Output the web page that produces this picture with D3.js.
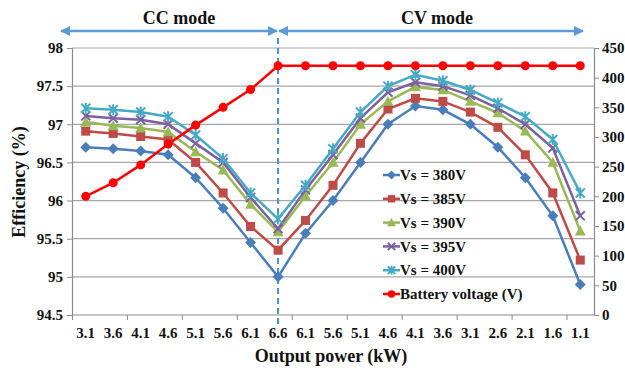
<!DOCTYPE html>
<html>
<head>
<meta charset="utf-8">
<script src="https://cdn.jsdelivr.net/npm/d3@7"></script>
<style>
  body { margin: 0; background: #fff; }
</style>
</head>
<body>
<svg id="chart" width="625" height="368"></svg>
<script>
// output power (kW), CC region then CV region
const powerLabels = ["3.1", "3.6", "4.1", "4.6", "5.1", "5.6", "6.1", "6.6", "6.1", "5.6", "5.1",
  "4.6", "4.1", "3.6", "3.1", "2.6", "2.1", "1.6", "1.1"];

// efficiency (%)
const vs380 = [96.7, 96.68, 96.65, 96.6, 96.3, 95.9, 95.45, 95.0, 95.57, 96.0, 96.5, 97.0, 97.24, 97.19, 97.0, 96.7, 96.3, 95.8, 94.9];
const vs385 = [96.91, 96.88, 96.84, 96.8, 96.5, 96.1, 95.66, 95.35, 95.74, 96.2, 96.75, 97.2, 97.34, 97.3, 97.16, 96.96, 96.6, 96.1, 95.22];
const vs390 = [97.03, 96.98, 96.95, 96.9, 96.64, 96.4, 95.95, 95.59, 96.06, 96.5, 97.0, 97.3, 97.49, 97.45, 97.3, 97.15, 96.91, 96.5, 95.6];
const vs395 = [97.11, 97.08, 97.06, 97.0, 96.75, 96.5, 96.04, 95.63, 96.14, 96.6, 97.08, 97.42, 97.55, 97.5, 97.38, 97.21, 97.0, 96.69, 95.8];
const vs400 = [97.21, 97.19, 97.16, 97.1, 96.86, 96.55, 96.1, 95.76, 96.2, 96.68, 97.16, 97.5, 97.65, 97.57, 97.45, 97.28, 97.1, 96.8, 96.1];

// battery voltage (V)
const battery = [200, 223, 253, 288, 320, 350, 380, 420, 420, 420, 420, 420, 420, 420, 420, 420, 420, 420, 420];

const leftTicks = [94.5, 95, 95.5, 96, 96.5, 97, 97.5, 98];
const rightTicks = [0, 50, 100, 150, 200, 250, 300, 350, 400, 450];

const series = [
  { name: "Vs = 380V", values: vs380, color: "#4a7ebb", marker: "diamond" },
  { name: "Vs = 385V", values: vs385, color: "#be4b48", marker: "square" },
  { name: "Vs = 390V", values: vs390, color: "#98b954", marker: "triangle" },
  { name: "Vs = 395V", values: vs395, color: "#7d60a0", marker: "x" },
  { name: "Vs = 400V", values: vs400, color: "#46aac5", marker: "star" }
];

const FONT = "'Liberation Serif', 'Times New Roman', serif";

const svg = d3.select("#chart");
const plotLeft = 72, plotRight = 594, plotTop = 48, plotBottom = 315;

const x = d3.scaleBand().domain(d3.range(powerLabels.length)).range([plotLeft, plotRight]);
const xb = d3.scaleLinear().domain([0, powerLabels.length]).range([plotLeft, plotRight]);
const yL = d3.scaleLinear().domain([94.5, 98]).range([plotBottom, plotTop]);
const yR = d3.scaleLinear().domain([0, 450]).range([plotBottom, plotTop]);
const cx = i => x(i) + x.bandwidth() / 2;

// gridlines
svg.append("g")
  .selectAll("line")
  .data(leftTicks.slice(1))
  .enter().append("line")
  .attr("x1", plotLeft).attr("x2", plotRight)
  .attr("y1", d => yL(d)).attr("y2", d => yL(d))
  .attr("stroke", "#a6a6a6").attr("stroke-width", 1.2);

// axes
const gl = svg.append("g").attr("transform", "translate(" + plotLeft + ",0)")
  .call(d3.axisLeft(yL).tickValues(leftTicks).tickSize(5).tickPadding(4).tickFormat(d => String(d)));
const gr = svg.append("g").attr("transform", "translate(" + plotRight + ",0)")
  .call(d3.axisRight(yR).tickValues(rightTicks).tickSize(5).tickPadding(3));
const gx = svg.append("g").attr("transform", "translate(0," + plotBottom + ")")
  .call(d3.axisBottom(x).tickSize(0).tickPadding(12).tickFormat(i => powerLabels[i]));
const gxt = svg.append("g").attr("transform", "translate(0," + plotBottom + ")")
  .call(d3.axisBottom(xb).tickValues(d3.range(0, 19, 2)).tickSize(5).tickFormat(""));

[gl, gr, gx, gxt].forEach(g => {
  g.attr("font-family", null).attr("font-size", null);
  g.select(".domain").attr("stroke", "#8c8c8c").attr("stroke-width", 1.2);
  g.selectAll(".tick line").attr("stroke", "#8c8c8c");
  g.selectAll("text").style("font-size", "15px");
});
gx.select(".domain").attr("d", "M" + plotLeft + ",0H" + plotRight);
gxt.select(".domain").remove();

// CC/CV divider
const divX = xb(7.5);
svg.append("line")
  .attr("x1", divX).attr("x2", divX).attr("y1", 38).attr("y2", 326)
  .attr("stroke", "#4a8fd4").attr("stroke-width", 2).attr("stroke-dasharray", "6,4");

// mode arrows
const defs = svg.append("defs");
["start", "end"].forEach(k => {
  defs.append("marker").attr("id", "arr-" + k)
    .attr("viewBox", "0 0 10 10").attr("refX", 9).attr("refY", 5)
    .attr("markerWidth", 4).attr("markerHeight", 4).attr("orient", "auto-start-reverse")
    .append("path").attr("d", "M0,0L10,5L0,10Z").attr("fill", "#5b9bd5");
});
[[61, divX - 1], [divX + 1, 583]].forEach(([a, b]) => {
  svg.append("line").attr("x1", a).attr("x2", b).attr("y1", 31).attr("y2", 31)
    .attr("stroke", "#5b9bd5").attr("stroke-width", 2.5)
    .attr("marker-start", "url(#arr-start)").attr("marker-end", "url(#arr-end)");
});
svg.append("text").attr("x", 179).attr("y", 24).attr("text-anchor", "middle")
  .style("font-size", "18px").text("CC mode");
svg.append("text").attr("x", 437).attr("y", 24).attr("text-anchor", "middle")
  .style("font-size", "18px").text("CV mode");

// marker drawing
function drawMarker(g, type, px, py, color, r) {
  r = r || 5.5;
  if (type === "diamond") {
    g.append("path").attr("d", "M" + px + "," + (py - r) + "l" + r + "," + r + "l" + (-r) + "," + r + "l" + (-r) + "," + (-r) + "z").attr("fill", color);
  } else if (type === "square") {
    g.append("rect").attr("x", px - r * 0.82).attr("y", py - r * 0.82).attr("width", r * 1.64).attr("height", r * 1.64).attr("fill", color);
  } else if (type === "triangle") {
    g.append("path").attr("d", "M" + px + "," + (py - r) + "l" + r + "," + (r * 1.8) + "l" + (-2 * r) + ",0z").attr("fill", color);
  } else if (type === "x") {
    const a = r * 0.82;
    g.append("path").attr("d", "M" + (px - a) + "," + (py - a) + "l" + 2 * a + "," + 2 * a + "M" + (px + a) + "," + (py - a) + "l" + (-2 * a) + "," + 2 * a)
      .attr("stroke", color).attr("stroke-width", 2);
  } else if (type === "star") {
    const a = r * 0.82;
    g.append("path").attr("d", "M" + (px - a) + "," + (py - a) + "l" + 2 * a + "," + 2 * a + "M" + (px + a) + "," + (py - a) + "l" + (-2 * a) + "," + 2 * a + "M" + px + "," + (py - r) + "l0," + 2 * r)
      .attr("stroke", color).attr("stroke-width", 2);
  } else if (type === "circle") {
    g.append("circle").attr("cx", px).attr("cy", py).attr("r", r * 0.82).attr("fill", color);
  }
}

// efficiency series
series.forEach(s => {
  const line = d3.line().x((d, i) => cx(i)).y(d => yL(d));
  svg.append("path").datum(s.values).attr("d", line)
    .attr("fill", "none").attr("stroke", s.color).attr("stroke-width", 2.5);
  const g = svg.append("g");
  s.values.forEach((v, i) => drawMarker(g, s.marker, cx(i), yL(v), s.color));
});

// battery voltage on right axis
const bLine = d3.line().x((d, i) => cx(i)).y(d => yR(d));
svg.append("path").datum(battery).attr("d", bLine)
  .attr("fill", "none").attr("stroke", "#ff0000").attr("stroke-width", 2.5);
const gb = svg.append("g");
battery.forEach((v, i) => drawMarker(gb, "circle", cx(i), yR(v), "#ff0000"));

// legend
const legendItems = series.concat([{ name: "Battery voltage (V)", color: "#ff0000", marker: "circle" }]);
legendItems.forEach((s, i) => {
  const ly = 175 + i * 23.8;
  const g = svg.append("g");
  g.append("line").attr("x1", 383).attr("x2", 400).attr("y1", ly).attr("y2", ly)
    .attr("stroke", s.color).attr("stroke-width", 2.5);
  drawMarker(g, s.marker, 391.5, ly, s.color, 4.5);
  g.append("text").attr("x", 400).attr("y", ly).attr("dy", "0.35em")
    .style("font-size", "15px").text(s.name);
});

// axis titles
svg.append("text").attr("transform", "translate(25,182) rotate(-90)")
  .attr("text-anchor", "middle").style("font-size", "18px").text("Efficiency (%)");
svg.append("text").attr("x", 331).attr("y", 362).attr("text-anchor", "middle")
  .style("font-size", "18px").text("Output power (kW)");

svg.selectAll("text").style("font-family", FONT).style("font-weight", "bold").attr("fill", "#111");
</script>
</body>
</html>
